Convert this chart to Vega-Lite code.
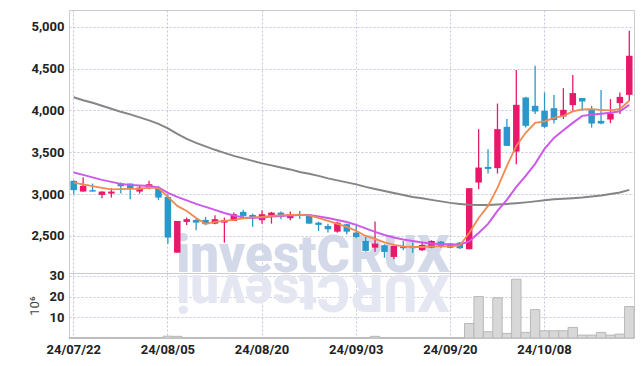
{
 "$schema": "https://vega.github.io/schema/vega-lite/v6.json",
 "padding": {"left": 27, "top": 9, "right": 5, "bottom": 5},
 "spacing": 0,
 "bounds": "flush",
 "config": {
  "view": {"stroke": "#cccccc"},
  "axis": {"labelFont": "Roboto", "labelFontSize": 13, "labelFontWeight": "bold", "labelColor": "#222222", "ticks": false, "domain": false, "gridColor": "#c3c7da", "gridDash": [2, 2], "gridWidth": 1, "labelPadding": 5}
 },
 "datasets": {
  "s": [
   {"d":"24/07/22","o":3158,"h":3166,"l":2999,"c":3047,"v":0.2,"m5":3138,"m10":3259,"m60":4157},
   {"d":"24/07/23","o":3030,"h":3202,"l":3030,"c":3098,"v":0.2,"m5":3116,"m10":3230,"m60":4121},
   {"d":"24/07/24","o":3047,"h":3126,"l":3030,"c":3030,"v":0.2,"m5":3094,"m10":3200,"m60":4091},
   {"d":"24/07/25","o":2990,"h":3035,"l":2951,"c":3030,"v":0.2,"m5":3074,"m10":3170,"m60":4055},
   {"d":"24/07/26","o":3006,"h":3071,"l":2958,"c":3030,"v":0.2,"m5":3056,"m10":3146,"m60":4019},
   {"d":"24/07/29","o":3126,"h":3138,"l":3006,"c":3094,"v":0.2,"m5":3059,"m10":3122,"m60":3983},
   {"d":"24/07/30","o":3126,"h":3126,"l":2939,"c":3071,"v":0.2,"m5":3062,"m10":3110,"m60":3953},
   {"d":"24/07/31","o":3030,"h":3098,"l":3006,"c":3078,"v":0.2,"m5":3062,"m10":3104,"m60":3917},
   {"d":"24/08/01","o":3071,"h":3158,"l":3059,"c":3118,"v":0.2,"m5":3078,"m10":3098,"m60":3881},
   {"d":"24/08/02","o":3071,"h":3098,"l":2927,"c":2958,"v":0.2,"m5":3071,"m10":3080,"m60":3840},
   {"d":"24/08/05","o":2966,"h":2999,"l":2408,"c":2480,"v":0.9,"m5":2966,"m10":3014,"m60":3786},
   {"d":"24/08/06","o":2300,"h":2679,"l":2300,"c":2679,"v":0.8,"m5":2859,"m10":2966,"m60":3720},
   {"d":"24/08/07","o":2667,"h":2719,"l":2632,"c":2700,"v":0.2,"m5":2799,"m10":2925,"m60":3660},
   {"d":"24/08/08","o":2691,"h":2703,"l":2568,"c":2659,"v":0.2,"m5":2715,"m10":2883,"m60":3612},
   {"d":"24/08/09","o":2691,"h":2727,"l":2628,"c":2640,"v":0.2,"m5":2644,"m10":2847,"m60":3570},
   {"d":"24/08/12","o":2647,"h":2748,"l":2640,"c":2700,"v":0.2,"m5":2667,"m10":2811,"m60":3529},
   {"d":"24/08/13","o":2659,"h":2719,"l":2420,"c":2691,"v":0.2,"m5":2679,"m10":2775,"m60":3493},
   {"d":"24/08/14","o":2679,"h":2779,"l":2679,"c":2760,"v":0.2,"m5":2691,"m10":2745,"m60":3457},
   {"d":"24/08/16","o":2787,"h":2811,"l":2727,"c":2739,"v":0.2,"m5":2709,"m10":2721,"m60":3427},
   {"d":"24/08/19","o":2751,"h":2767,"l":2608,"c":2719,"v":0.2,"m5":2721,"m10":2715,"m60":3397},
   {"d":"24/08/20","o":2688,"h":2807,"l":2647,"c":2760,"v":0.2,"m5":2727,"m10":2721,"m60":3367},
   {"d":"24/08/21","o":2739,"h":2787,"l":2647,"c":2779,"v":0.2,"m5":2739,"m10":2733,"m60":3343},
   {"d":"24/08/22","o":2779,"h":2791,"l":2700,"c":2751,"v":0.2,"m5":2745,"m10":2739,"m60":3319},
   {"d":"24/08/23","o":2712,"h":2791,"l":2688,"c":2760,"v":0.2,"m5":2751,"m10":2745,"m60":3295},
   {"d":"24/08/26","o":2763,"h":2799,"l":2703,"c":2751,"v":0.2,"m5":2751,"m10":2751,"m60":3265},
   {"d":"24/08/27","o":2751,"h":2751,"l":2647,"c":2647,"v":0.2,"m5":2745,"m10":2751,"m60":3242},
   {"d":"24/08/28","o":2659,"h":2671,"l":2560,"c":2632,"v":0.2,"m5":2715,"m10":2733,"m60":3218},
   {"d":"24/08/29","o":2620,"h":2647,"l":2540,"c":2580,"v":0.2,"m5":2679,"m10":2715,"m60":3188},
   {"d":"24/08/30","o":2551,"h":2671,"l":2540,"c":2659,"v":0.2,"m5":2644,"m10":2691,"m60":3164},
   {"d":"24/09/02","o":2640,"h":2647,"l":2520,"c":2551,"v":0.2,"m5":2608,"m10":2667,"m60":3140},
   {"d":"24/09/03","o":2540,"h":2620,"l":2472,"c":2488,"v":0.2,"m5":2560,"m10":2632,"m60":3116},
   {"d":"24/09/04","o":2440,"h":2488,"l":2312,"c":2321,"v":0.2,"m5":2500,"m10":2590,"m60":3086},
   {"d":"24/09/05","o":2360,"h":2671,"l":2312,"c":2408,"v":0.8,"m5":2464,"m10":2548,"m60":3062},
   {"d":"24/09/06","o":2389,"h":2401,"l":2240,"c":2309,"v":0.2,"m5":2422,"m10":2512,"m60":3038},
   {"d":"24/09/09","o":2249,"h":2380,"l":2221,"c":2380,"v":0.2,"m5":2392,"m10":2482,"m60":3014},
   {"d":"24/09/10","o":2368,"h":2440,"l":2329,"c":2353,"v":0.2,"m5":2374,"m10":2458,"m60":2990},
   {"d":"24/09/11","o":2368,"h":2420,"l":2300,"c":2353,"v":0.2,"m5":2368,"m10":2440,"m60":2966},
   {"d":"24/09/12","o":2329,"h":2432,"l":2321,"c":2392,"v":0.2,"m5":2368,"m10":2422,"m60":2949},
   {"d":"24/09/13","o":2360,"h":2448,"l":2353,"c":2440,"v":0.2,"m5":2374,"m10":2410,"m60":2931},
   {"d":"24/09/19","o":2432,"h":2440,"l":2360,"c":2368,"v":0.2,"m5":2374,"m10":2404,"m60":2913},
   {"d":"24/09/20","o":2360,"h":2416,"l":2353,"c":2408,"v":0.2,"m5":2374,"m10":2398,"m60":2895},
   {"d":"24/09/23","o":2420,"h":2428,"l":2345,"c":2353,"v":0.2,"m5":2386,"m10":2398,"m60":2883},
   {"d":"24/09/24","o":2341,"h":3071,"l":2341,"c":3071,"v":7.0,"m5":2536,"m10":2434,"m60":2873},
   {"d":"24/09/25","o":3138,"h":3776,"l":3059,"c":3317,"v":20.0,"m5":2715,"m10":2536,"m60":2871},
   {"d":"24/09/26","o":3325,"h":3537,"l":3245,"c":3301,"v":3.0,"m5":2859,"m10":2644,"m60":2871},
   {"d":"24/09/27","o":3310,"h":4082,"l":3245,"c":3776,"v":19.4,"m5":3074,"m10":2799,"m60":2877},
   {"d":"24/09/30","o":3804,"h":3896,"l":3576,"c":3576,"v":2.2,"m5":3337,"m10":2931,"m60":2883},
   {"d":"24/10/02","o":3508,"h":4482,"l":3358,"c":4067,"v":28.4,"m5":3576,"m10":3086,"m60":2891},
   {"d":"24/10/04","o":4154,"h":4162,"l":3795,"c":3816,"v":2.7,"m5":3732,"m10":3218,"m60":2901},
   {"d":"24/10/07","o":4055,"h":4533,"l":3956,"c":3987,"v":13.7,"m5":3851,"m10":3361,"m60":2913},
   {"d":"24/10/08","o":3995,"h":4214,"l":3788,"c":3804,"v":3.5,"m5":3869,"m10":3541,"m60":2925},
   {"d":"24/10/10","o":4027,"h":4183,"l":3843,"c":3884,"v":3.5,"m5":3911,"m10":3672,"m60":2937},
   {"d":"24/10/11","o":3927,"h":4266,"l":3896,"c":4007,"v":3.5,"m5":3935,"m10":3762,"m60":2943},
   {"d":"24/10/14","o":4063,"h":4422,"l":3995,"c":4207,"v":5.1,"m5":3989,"m10":3851,"m60":2951},
   {"d":"24/10/15","o":4147,"h":4147,"l":3995,"c":4106,"v":1.4,"m5":4013,"m10":3935,"m60":2960},
   {"d":"24/10/16","o":4015,"h":4055,"l":3795,"c":3843,"v":1.4,"m5":4015,"m10":3947,"m60":2972},
   {"d":"24/10/17","o":3875,"h":4243,"l":3836,"c":3843,"v":2.7,"m5":4007,"m10":3959,"m60":2984},
   {"d":"24/10/18","o":3891,"h":4135,"l":3848,"c":3963,"v":1.4,"m5":4001,"m10":3971,"m60":3002},
   {"d":"24/10/21","o":4087,"h":4214,"l":3956,"c":4162,"v":1.9,"m5":4019,"m10":3989,"m60":3020},
   {"d":"24/10/22","o":4186,"h":4952,"l":4115,"c":4653,"v":15.2,"m5":4115,"m10":4067,"m60":3050}
  ]
 },
 "vconcat": [
  {
   "width": 565,
   "height": 263,
   "data": {"name": "s"},
   "encoding": {
    "x": {"field": "d", "type": "ordinal", "scale": {"type": "band", "paddingInner": 0, "paddingOuter": 0},
          "axis": {"values": ["24/07/22","24/08/05","24/08/20","24/09/03","24/09/20","24/10/08"], "labels": false, "title": null, "grid": true}}
   },
   "layer": [
    {
     "data": {"values": [{"t": "investCRUX", "d": "24/08/06", "p": 2069}]},
     "mark": {"type": "text", "font": "Roboto", "fontSize": 51, "fontWeight": 900, "align": "left", "baseline": "alphabetic", "dx": -1, "color": "#d0d5e8", "opacity": 0.9},
     "encoding": {
      "y": {"field": "p", "type": "quantitative", "scale": {"domain": [2057, 5200], "nice": false, "zero": false},
            "axis": {"values": [2500, 3000, 3500, 4000, 4500, 5000], "format": ",d", "title": null, "grid": true, "labelOverlap": false}},
      "text": {"field": "t"}
     }
    },
    {
     "mark": {"type": "rule", "strokeWidth": 1.3},
     "encoding": {
      "y": {"field": "l", "type": "quantitative"},
      "y2": {"field": "h"},
      "color": {"condition": {"test": "datum.c >= datum.o", "value": "#e8196b"}, "value": "#2c97c9"}
     }
    },
    {
     "mark": {"type": "bar", "size": 6.5},
     "encoding": {
      "y": {"field": "o", "type": "quantitative"},
      "y2": {"field": "c"},
      "color": {"condition": {"test": "datum.c >= datum.o", "value": "#e8196b"}, "value": "#2c97c9"}
     }
    },
    {
     "mark": {"type": "line", "color": "#858585", "strokeWidth": 2},
     "encoding": {"y": {"field": "m60", "type": "quantitative"}}
    },
    {
     "mark": {"type": "line", "color": "#cc5ae8", "strokeWidth": 2},
     "encoding": {"y": {"field": "m10", "type": "quantitative"}}
    },
    {
     "mark": {"type": "line", "color": "#f08a50", "strokeWidth": 1.8},
     "encoding": {"y": {"field": "m5", "type": "quantitative"}}
    }
   ]
  },
  {
   "width": 565,
   "height": 65,
   "data": {"name": "s"},
   "resolve": {"axis": {"y": "independent"}},
   "encoding": {
    "x": {"field": "d", "type": "ordinal", "scale": {"type": "band", "paddingInner": 0, "paddingOuter": 0},
          "axis": {"values": ["24/07/22","24/08/05","24/08/20","24/09/03","24/09/20","24/10/08"], "title": null, "grid": true, "labelAngle": 0}}
   },
   "layer": [
    {
     "mark": {"type": "bar", "color": "#d8d8d8", "stroke": "#b8b8b8", "strokeWidth": 1},
     "encoding": {
      "y": {"field": "v", "type": "quantitative", "scale": {"domain": [0, 31.4], "nice": false},
            "axis": {"values": [10, 20, 30], "labelOverlap": false, "orient": "left", "title": "10⁶", "titleFont": "Roboto", "titleFontSize": 13, "titleFontWeight": "normal", "titleColor": "#444444", "titlePadding": 8, "grid": true}}
     }
    },
    {
     "data": {"values": [{"t": "XURCtsevni", "d": "24/08/06", "q": 30.5}]},
     "mark": {"type": "text", "font": "Roboto", "fontSize": 51, "fontWeight": 900, "align": "right", "baseline": "alphabetic", "angle": 180, "dx": 1, "color": "#e4e7f1"},
     "encoding": {
      "y": {"field": "q", "type": "quantitative", "axis": null},
      "text": {"field": "t"}
     }
    }
   ]
  }
 ]
}
